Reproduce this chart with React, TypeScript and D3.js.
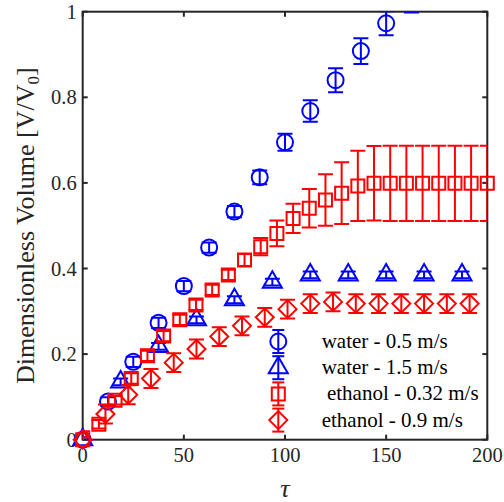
import React from "react";
import * as d3 from "d3";

// ---- data ----
const waterSlowTau = [0, 12.5, 25, 37.5, 50, 62.5, 75, 87.5, 100, 112.5, 125, 137.5, 150, 162.5];
const waterSlowV = [0, 0.089, 0.182, 0.273, 0.359, 0.449, 0.533, 0.613, 0.695, 0.768, 0.84, 0.908, 0.973, 1.03];
const waterSlowErr = [0.006, 0.01, 0.012, 0.012, 0.012, 0.012, 0.013, 0.016, 0.02, 0.025, 0.028, 0.03, 0.028, 0.032];

const waterFastTau = [0, 18.75, 37.5, 56.25, 75, 93.75, 112.5, 131.25, 150, 168.75, 187.5];
const waterFastV = [0, 0.135, 0.218, 0.28, 0.327, 0.368, 0.385, 0.385, 0.385, 0.385, 0.385];
const waterFastErr = [0.006, 0.008, 0.008, 0.008, 0.008, 0.008, 0.008, 0.008, 0.008, 0.008, 0.008];

const ethSlowTau = [0, 8, 16, 24, 32, 40, 48, 56, 64, 72, 80, 88, 96, 104, 112, 120, 128, 136, 144, 152, 160, 168, 176, 184, 192, 200];
const ethSlowV = [0, 0.036, 0.092, 0.143, 0.196, 0.242, 0.28, 0.315, 0.35, 0.385, 0.42, 0.451, 0.482, 0.517, 0.541, 0.56, 0.576, 0.593, 0.599, 0.599, 0.599, 0.599, 0.599, 0.599, 0.599, 0.599];
const ethSlowErr = [0.006, 0.01, 0.01, 0.012, 0.012, 0.012, 0.012, 0.012, 0.012, 0.012, 0.014, 0.02, 0.03, 0.034, 0.045, 0.06, 0.072, 0.082, 0.087, 0.088, 0.088, 0.088, 0.088, 0.088, 0.088, 0.088];

const ethFastTau = [0, 11.25, 22.5, 33.75, 45, 56.25, 67.5, 78.75, 90, 101.25, 112.5, 123.75, 135, 146.25, 157.5, 168.75, 180, 191.25];
const ethFastV = [0, 0.06, 0.105, 0.143, 0.18, 0.212, 0.241, 0.266, 0.286, 0.305, 0.318, 0.322, 0.318, 0.318, 0.318, 0.318, 0.318, 0.318];
const ethFastErr = [0.02, 0.022, 0.022, 0.022, 0.022, 0.022, 0.022, 0.022, 0.022, 0.022, 0.022, 0.022, 0.022, 0.022, 0.022, 0.022, 0.022, 0.022];

const legendLabels = ["water - 0.5 m/s", "water - 1.5 m/s", " ethanol - 0.32 m/s", "ethanol - 0.9 m/s"];
const xTicks = [0, 50, 100, 150, 200];
const xTickLabels = ["0", "50", "100", "150", "200"];
const yTicks = [0, 0.2, 0.4, 0.6, 0.8, 1];
const yTickLabels = ["0", "0.2", "0.4", "0.6", "0.8", "1"];

const BLUE = "#0000ff";
const RED = "#ff0000";
const AX = "#262626";
const FONT = "'Liberation Serif', 'Times New Roman', serif";

type Shape = "circle" | "triangle" | "square" | "diamond";

function markerPath(shape: Shape, cx: number, cy: number): string {
  const p = d3.path();
  if (shape === "circle") {
    p.moveTo(cx + 8, cy);
    p.arc(cx, cy, 8, 0, Math.PI * 2);
  } else if (shape === "triangle") {
    const r = 11;
    p.moveTo(cx, cy - r);
    p.lineTo(cx + r * 0.866, cy + r * 0.5);
    p.lineTo(cx - r * 0.866, cy + r * 0.5);
    p.closePath();
  } else if (shape === "square") {
    const h = 6.5;
    p.rect(cx - h, cy - h, 2 * h, 2 * h);
  } else {
    const h = 9;
    p.moveTo(cx, cy - h);
    p.lineTo(cx + h, cy);
    p.lineTo(cx, cy + h);
    p.lineTo(cx - h, cy);
    p.closePath();
  }
  return p.toString();
}

export default function App() {
  const W = 504, H = 502;
  const x = d3.scaleLinear().domain([0, 200]).range([82.7, 487.3]);
  const y = d3.scaleLinear().domain([0, 1]).range([439.7, 11.7]);
  const [x0, x1] = x.range();
  const [y0, y1] = y.range();

  const series: { tau: number[]; v: number[]; err: number[]; color: string; shape: Shape }[] = [
    { tau: waterSlowTau, v: waterSlowV, err: waterSlowErr, color: BLUE, shape: "circle" },
    { tau: waterFastTau, v: waterFastV, err: waterFastErr, color: BLUE, shape: "triangle" },
    { tau: ethSlowTau, v: ethSlowV, err: ethSlowErr, color: RED, shape: "square" },
    { tau: ethFastTau, v: ethFastV, err: ethFastErr, color: RED, shape: "diamond" },
  ];

  const cap = 7.5;
  const tickLen = 5;

  return (
    <svg width={W} height={H} style={{ position: "absolute", left: 0, top: 0, background: "#fff" }}
      fontFamily={FONT}>
      <defs>
        <clipPath id="plotClip">
          <rect x={x0} y={y1} width={x1 - x0} height={y0 - y1} />
        </clipPath>
      </defs>
      <rect x={0} y={0} width={W} height={H} fill="#fff" />

      {/* axes box and ticks */}
      <g stroke={AX} strokeWidth={2} fill="none">
        <rect x={x0} y={y1} width={x1 - x0} height={y0 - y1} />
        {xTicks.map((t) => (
          <g key={"xt" + t}>
            <line x1={x(t)} x2={x(t)} y1={y0} y2={y0 - tickLen} />
            <line x1={x(t)} x2={x(t)} y1={y1} y2={y1 + tickLen} />
          </g>
        ))}
        {yTicks.map((t) => (
          <g key={"yt" + t}>
            <line x1={x0} x2={x0 + tickLen} y1={y(t)} y2={y(t)} />
            <line x1={x1} x2={x1 - tickLen} y1={y(t)} y2={y(t)} />
          </g>
        ))}
      </g>

      {/* tick labels */}
      <g fill={AX} fontSize={20.5}>
        {xTicks.map((t, i) => (
          <text key={"xl" + t} x={x(t)} y={462} textAnchor="middle">{xTickLabels[i]}</text>
        ))}
        {yTicks.map((t, i) => (
          <text key={"yl" + t} x={x0 - 6} y={y(t) + 7} textAnchor="end">{yTickLabels[i]}</text>
        ))}
      </g>

      {/* axis labels */}
      <text x={x((0 + 200) / 2)} y={497} textAnchor="middle" fontSize={26} fontStyle="italic" fill={AX}>τ</text>
      <text transform={`translate(34, ${(y0 + y1) / 2}) rotate(-90)`} textAnchor="middle" fontSize={26} fill={AX}>
        Dimensionless Volume [V/V<tspan fontSize={17} dy={5}>0</tspan><tspan dy={-5}>]</tspan>
      </text>

      {/* data */}
      {series.map((s, si) => (
        <g key={"s" + si} stroke={s.color} strokeWidth={2} fill="none">
          <g clipPath="url(#plotClip)">
            {s.tau.map((t, i) => {
              const cx = x(t);
              const lo = y(s.v[i] - s.err[i]);
              const hi = y(s.v[i] + s.err[i]);
              return (
                <g key={"e" + i}>
                  <line x1={cx} x2={cx} y1={lo} y2={hi} />
                  <line x1={cx - cap} x2={cx + cap} y1={lo} y2={lo} />
                  <line x1={cx - cap} x2={cx + cap} y1={hi} y2={hi} />
                </g>
              );
            })}
          </g>
          {s.tau.map((t, i) =>
            s.v[i] <= 1 ? <path key={"m" + i} d={markerPath(s.shape, x(t), y(s.v[i]))} /> : null
          )}
        </g>
      ))}

      {/* legend */}
      {series.map((s, i) => {
        const ly = 341.5 + i * 26.2;
        const lx = 278.3;
        const e = 11.5;
        const c = 6;
        return (
          <g key={"lg" + i}>
            <g stroke={s.color} strokeWidth={2} fill="none">
              <line x1={lx} x2={lx} y1={ly - e} y2={ly + e} />
              <line x1={lx - c} x2={lx + c} y1={ly - e} y2={ly - e} />
              <line x1={lx - c} x2={lx + c} y1={ly + e} y2={ly + e} />
              <path d={markerPath(s.shape, lx, ly)} />
            </g>
            <text x={321.7} y={ly + 6.5} fontSize={21} fill="#000" style={{ whiteSpace: "pre" }}>
              {legendLabels[i]}
            </text>
          </g>
        );
      })}
    </svg>
  );
}
